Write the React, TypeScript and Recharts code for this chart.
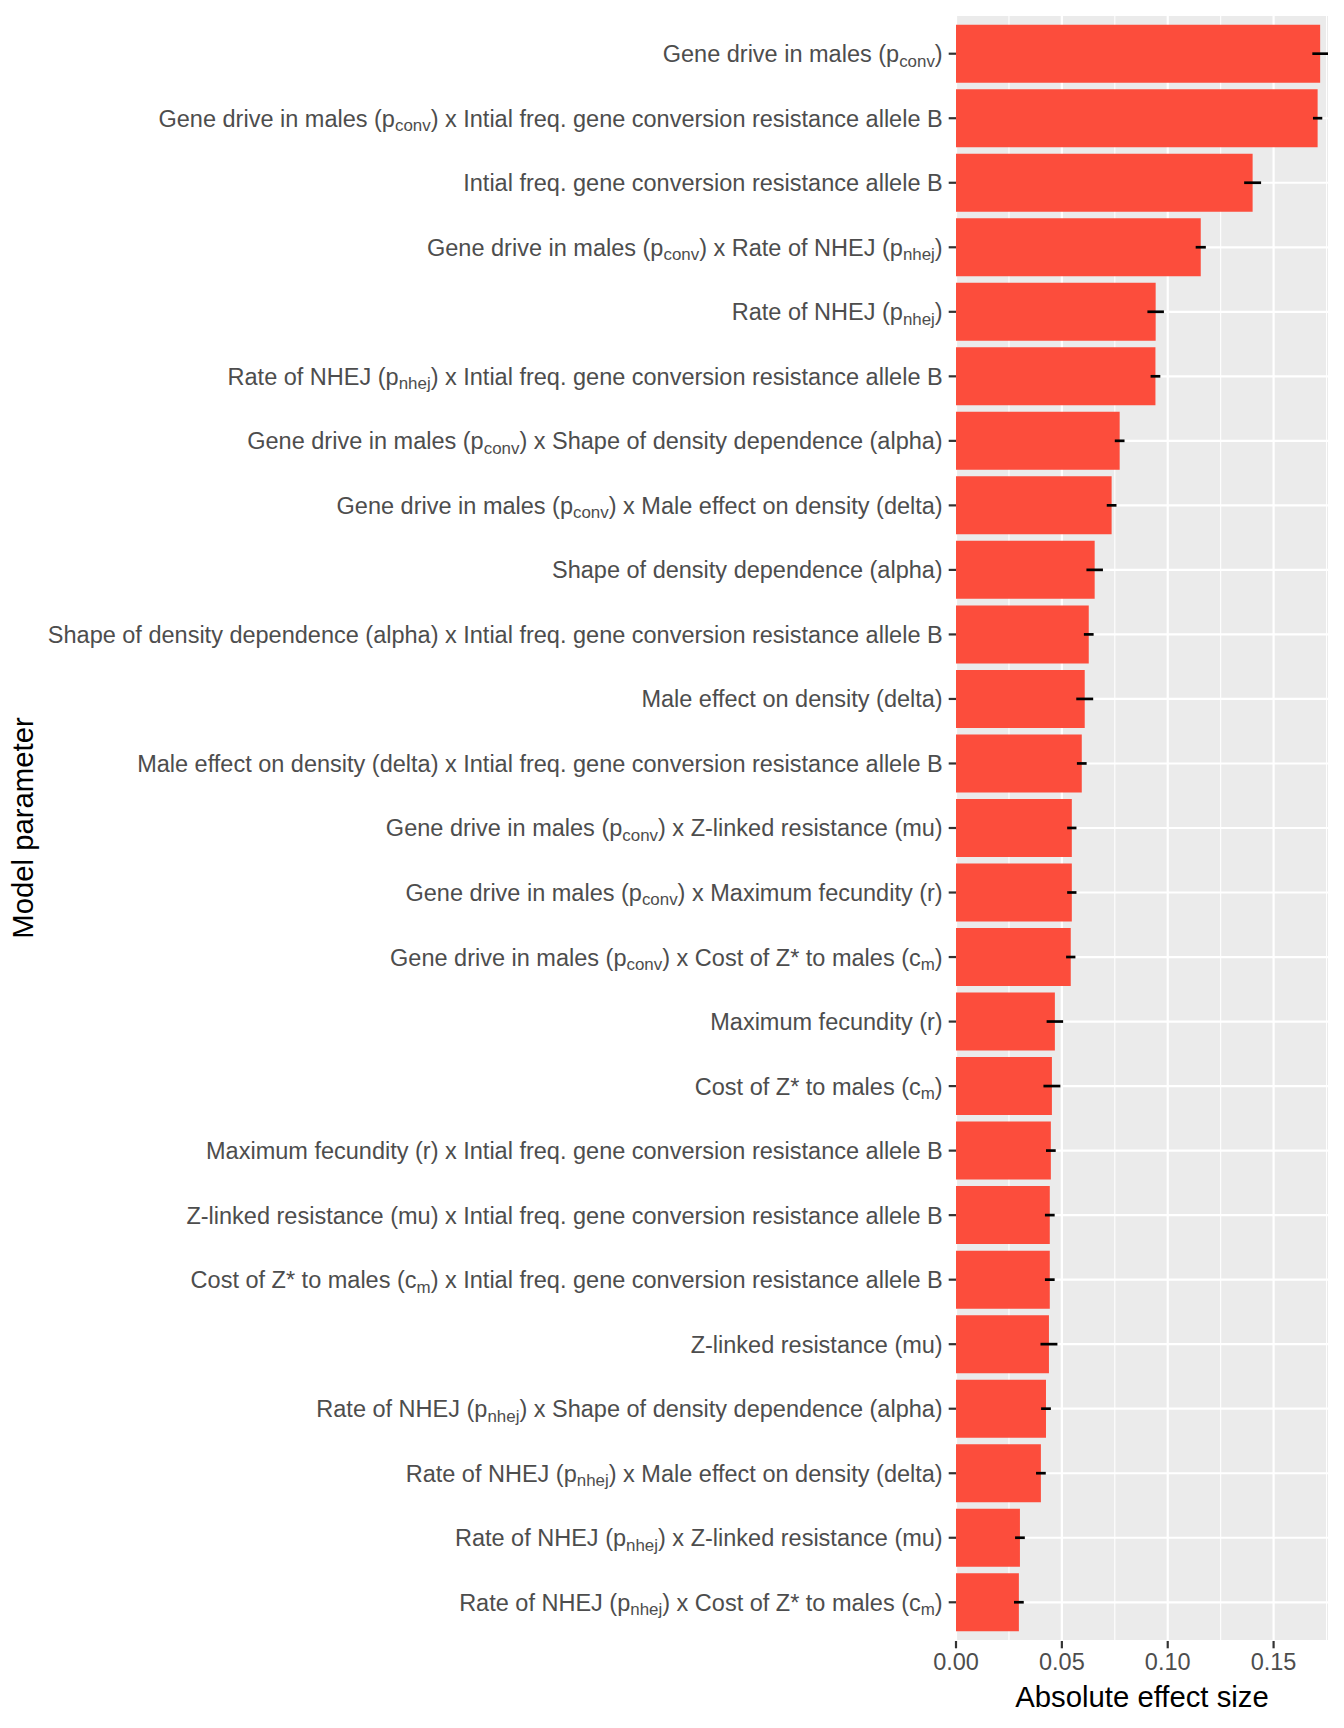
import React from 'react'
import {
  BarChart,
  Bar,
  XAxis,
  YAxis,
  CartesianGrid,
  ErrorBar,
  Label,
} from 'recharts'

// Sensitivity of the model outcome: absolute effect size per parameter (and interaction).
// Subscripts are written as _{...} inside the labels and rendered as a small lowered tspan.

const PARAMS = [
  'Gene drive in males (p_{conv})',
  'Gene drive in males (p_{conv}) x Intial freq. gene conversion resistance allele B',
  'Intial freq. gene conversion resistance allele B',
  'Gene drive in males (p_{conv}) x Rate of NHEJ (p_{nhej})',
  'Rate of NHEJ (p_{nhej})',
  'Rate of NHEJ (p_{nhej}) x Intial freq. gene conversion resistance allele B',
  'Gene drive in males (p_{conv}) x Shape of density dependence (alpha)',
  'Gene drive in males (p_{conv}) x Male effect on density (delta)',
  'Shape of density dependence (alpha)',
  'Shape of density dependence (alpha) x Intial freq. gene conversion resistance allele B',
  'Male effect on density (delta)',
  'Male effect on density (delta) x Intial freq. gene conversion resistance allele B',
  'Gene drive in males (p_{conv}) x Z-linked resistance (mu)',
  'Gene drive in males (p_{conv}) x Maximum fecundity (r)',
  'Gene drive in males (p_{conv}) x Cost of Z* to males (c_{m})',
  'Maximum fecundity (r)',
  'Cost of Z* to males (c_{m})',
  'Maximum fecundity (r) x Intial freq. gene conversion resistance allele B',
  'Z-linked resistance (mu) x Intial freq. gene conversion resistance allele B',
  'Cost of Z* to males (c_{m}) x Intial freq. gene conversion resistance allele B',
  'Z-linked resistance (mu)',
  'Rate of NHEJ (p_{nhej}) x Shape of density dependence (alpha)',
  'Rate of NHEJ (p_{nhej}) x Male effect on density (delta)',
  'Rate of NHEJ (p_{nhej}) x Z-linked resistance (mu)',
  'Rate of NHEJ (p_{nhej}) x Cost of Z* to males (c_{m})',
]

const EFFECT = [
  0.172, 0.1708, 0.1401, 0.1156, 0.0943, 0.0942, 0.0773, 0.0735, 0.0655, 0.0627,
  0.0608, 0.0594, 0.0547, 0.0547, 0.0542, 0.0467, 0.0453, 0.0448, 0.0443, 0.0443,
  0.0439, 0.0425, 0.0401, 0.0302, 0.0297,
]

const SE = [
  0.0037, 0.0022, 0.004, 0.0024, 0.0039, 0.0023, 0.0023, 0.0023, 0.0039, 0.0023,
  0.004, 0.0023, 0.0022, 0.0022, 0.0022, 0.0039, 0.004, 0.0023, 0.0023, 0.0023,
  0.004, 0.0023, 0.0023, 0.0023, 0.0023,
]

const X_MAX = 0.1757
const MAJOR_BREAKS = [0, 0.05, 0.1, 0.15]
const MINOR_BREAKS = [0.025, 0.075, 0.125, 0.175]

const data = PARAMS.map((name, i) => ({ name, effect: EFFECT[i], se: SE[i] }))

const FONT = '"Liberation Sans", Arial, Helvetica, sans-serif'
const TICK_SIZE = 23.5
const BAR_FILL = '#FC4D3C'

// split "abc_{sub}def" -> [{t:'abc'},{t:'sub',sub:true},{t:'def'}]
const splitLabel = (s: string) => {
  const parts: { t: string; sub?: boolean }[] = []
  const re = /_\{([^}]*)\}/g
  let last = 0
  let m: RegExpExecArray | null
  while ((m = re.exec(s))) {
    if (m.index > last) parts.push({ t: s.slice(last, m.index) })
    parts.push({ t: m[1], sub: true })
    last = m.index + m[0].length
  }
  if (last < s.length) parts.push({ t: s.slice(last) })
  return parts
}

const ParamTick = (props: any) => {
  const { x, y, payload } = props
  const parts = splitLabel(String(payload.value))
  const shift = 4.5
  return (
    <text
      x={x}
      y={y + TICK_SIZE * 0.36}
      textAnchor="end"
      fontFamily={FONT}
      fontSize={TICK_SIZE}
      fill="#4D4D4D"
    >
      {parts.map((p, i) =>
        p.sub ? (
          <tspan key={i} fontSize={TICK_SIZE * 0.72} dy={shift}>
            {p.t}
          </tspan>
        ) : (
          <tspan key={i} dy={i > 0 && parts[i - 1].sub ? -shift : undefined}>
            {p.t}
          </tspan>
        ),
      )}
    </text>
  )
}

const gridX = (vals: number[]) => (props: any) => {
  const { xAxis, offset } = props
  const s = xAxis?.scale
  return vals.map((v) =>
    typeof s === 'function' ? s(v) : offset.left + (v / X_MAX) * offset.width,
  )
}

export default function App() {
  return (
    <div style={{ position: 'absolute', left: 0, top: 0, background: '#fff' }}>
      <BarChart
        width={1344}
        height={1728}
        data={data}
        layout="vertical"
        margin={{ top: 15, right: 16, bottom: 0, left: 0 }}
        barCategoryGap="5%"
      >
        <CartesianGrid
          fill="#EBEBEB"
          stroke="#FFFFFF"
          strokeWidth={1.1}
          horizontal={false}
          verticalCoordinatesGenerator={gridX(MINOR_BREAKS)}
        />
        <CartesianGrid
          stroke="#FFFFFF"
          strokeWidth={2.2}
          verticalCoordinatesGenerator={gridX(MAJOR_BREAKS)}
        />
        <XAxis
          type="number"
          domain={[0, X_MAX]}
          allowDataOverflow
          ticks={MAJOR_BREAKS}
          tickFormatter={(v: number) => v.toFixed(2)}
          axisLine={false}
          tickSize={7.3}
          tickMargin={5}
          tickLine={{ stroke: '#333333', strokeWidth: 2.2 }}
          tick={{ fontSize: TICK_SIZE, fill: '#4D4D4D', fontFamily: FONT }}
          height={87}
        >
          <Label
            content={(p: any) => {
              const vb = p.viewBox || {}
              return (
                <text
                  x={vb.x + vb.width / 2}
                  y={1707}
                  textAnchor="middle"
                  fontFamily={FONT}
                  fontSize={29.3}
                  fill="#000000"
                >
                  Absolute effect size
                </text>
              )
            }}
          />
        </XAxis>
        <YAxis
          type="category"
          dataKey="name"
          width={956}
          interval={0}
          axisLine={false}
          tickSize={7.3}
          tickMargin={6}
          tickLine={{ stroke: '#333333', strokeWidth: 2.2 }}
          tick={<ParamTick />}
          padding={{ top: 6.45, bottom: 6.45 }}
        >
          <Label
            content={(p: any) => {
              const vb = p.viewBox || {}
              const cy = vb.y + vb.height / 2
              return (
                <text
                  x={33}
                  y={cy}
                  transform={`rotate(-90, 33, ${cy})`}
                  textAnchor="middle"
                  fontFamily={FONT}
                  fontSize={29.3}
                  fill="#000000"
                >
                  Model parameter
                </text>
              )
            }}
          />
        </YAxis>
        <Bar dataKey="effect" fill={BAR_FILL} isAnimationActive={false}>
          <ErrorBar dataKey="se" direction="x" width={0} stroke="#000000" strokeWidth={2.7} />
        </Bar>
      </BarChart>
    </div>
  )
}
